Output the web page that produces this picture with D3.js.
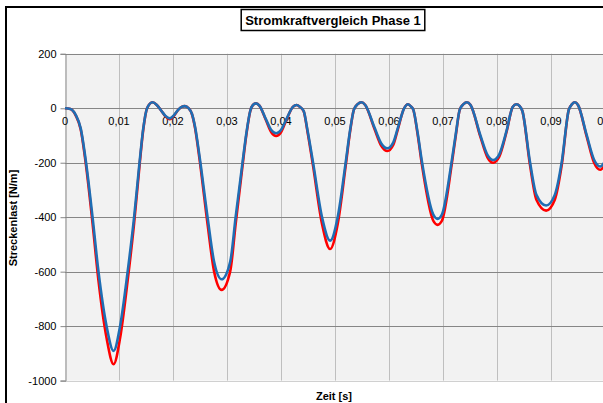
<!DOCTYPE html>
<html>
<head>
<meta charset="utf-8">
<script src="https://cdn.jsdelivr.net/npm/d3@7"></script>
<style>
	body { margin:0; background:#fff; }
	svg { display:block; font-family: Arial, "Liberation Sans", sans-serif; }
</style>
</head>
<body>
<svg id="chart" width="603" height="403"></svg>
<script>
//time values (s)
var times = [0,0.001,0.002,0.0029,0.0039,0.0051,0.0062,0.0077,0.009,0.0102,0.0116,0.0128,0.0138,0.0145,0.0152,0.0162,0.017,0.0178,0.0186,0.0194,0.0202,0.021,0.0216,0.0222,0.0229,0.0235,0.0241,0.0249,0.0264,0.0276,0.029,0.0306,0.0316,0.0329,0.0336,0.0343,0.0348,0.0354,0.036,0.0372,0.0382,0.0391,0.04,0.041,0.0422,0.0429,0.0435,0.0442,0.0449,0.0459,0.0476,0.0491,0.0505,0.052,0.0528,0.0535,0.0542,0.0549,0.0556,0.0573,0.0586,0.0597,0.0608,0.0616,0.0628,0.0635,0.064,0.0645,0.0653,0.0661,0.0682,0.069,0.0698,0.0716,0.0724,0.0731,0.0738,0.0744,0.0751,0.0769,0.0782,0.0793,0.0804,0.0818,0.0829,0.0836,0.0842,0.0847,0.0861,0.0873,0.0891,0.0907,0.092,0.0933,0.0939,0.0944,0.095,0.0966,0.098,0.0991,0.1];

//blue series (N/m)
var blueValues = [0,-3,-25,-73,-200,-400,-600,-800,-891,-800,-600,-400,-200,-73,0,22,12,-8,-28,-37,-25,-5,5,8,0,-20,-70,-175,-400,-563,-628,-563,-400,-195,-90,-10,12,18,10,-40,-80,-92,-80,-40,5,12,5,-10,-80,-195,-400,-486,-400,-196,-80,-5,15,22,12,-70,-130,-147,-125,-75,0,15,8,-5,-90,-196,-390,-406,-390,-196,-90,-5,15,22,12,-98,-170,-190,-170,-80,5,15,8,-10,-196,-318,-357,-318,-196,-5,15,22,12,-98,-190,-214,-195];

//red series (N/m)
var redValues = [0,-3,-27,-77,-211,-422,-633,-844,-940,-844,-633,-422,-211,-77,0,22,12,-8,-30,-40,-27,-5,5,8,0,-21,-74,-185,-425,-598,-667,-598,-425,-207,-95,-11,12,18,10,-43,-88,-102,-88,-43,5,12,5,-11,-85,-207,-425,-517,-425,-208,-85,-5,15,22,12,-75,-139,-157,-134,-80,0,15,8,-5,-96,-208,-413,-428,-413,-208,-96,-5,15,22,12,-103,-179,-200,-179,-84,5,15,8,-10,-207,-336,-376,-336,-207,-5,15,22,12,-103,-201,-226,-206];

var xTicks = [0,0.01,0.02,0.03,0.04,0.05,0.06,0.07,0.08,0.09,0.1];
var yTicks = [200,0,-200,-400,-600,-800,-1000];

var svg = d3.select("#chart");

//outer chart frame
svg.append("rect")
	.attr("x",6).attr("y",7).attr("width",700).attr("height",500)
	.attr("fill","#fff").attr("stroke","#000").attr("stroke-width",2);

var x = d3.scaleLinear().domain([0,0.1]).range([65,605]);
var y = d3.scaleLinear().domain([-1000,200]).range([380.6,53.8]);

//plot background
svg.append("rect")
	.attr("x",x(0)).attr("y",y(200))
	.attr("width",x(0.1)-x(0)).attr("height",y(-1000)-y(200))
	.attr("fill","#f2f2f2");

//vertical grid
svg.append("g").selectAll("line").data(xTicks.slice(1)).join("line")
	.attr("x1",function(d){return Math.round(x(d))+0.5;})
	.attr("x2",function(d){return Math.round(x(d))+0.5;})
	.attr("y1",y(200)).attr("y2",y(-1000))
	.attr("stroke","#bfbfbf").attr("stroke-width",1);

//horizontal grid
svg.append("g").selectAll("line").data(yTicks.filter(function(d){return d>-1000;})).join("line")
	.attr("x1",x(0)).attr("x2",x(0.1))
	.attr("y1",function(d){return Math.round(y(d))+0.5;})
	.attr("y2",function(d){return Math.round(y(d))+0.5;})
	.attr("stroke","#868686").attr("stroke-width",1);

//bottom edge of plot
svg.append("line")
	.attr("x1",x(0)).attr("x2",x(0.1))
	.attr("y1",Math.round(y(-1000))+0.5).attr("y2",Math.round(y(-1000))+0.5)
	.attr("stroke","#d0d0d0");

//y axis
var yAxis = d3.axisLeft(y).tickValues(yTicks).tickSize(5).tickPadding(4)
	.tickFormat(function(d){return d;});
var gy = svg.append("g").attr("transform","translate("+(Math.round(x(0))+0.5)+",0)").call(yAxis);
gy.select(".domain").attr("stroke","#868686");
gy.selectAll(".tick line").attr("stroke","#868686");
gy.selectAll(".tick text").attr("font-size",11).attr("fill","#000")
	.attr("font-family","Arial, 'Liberation Sans', sans-serif");

//x tick labels along the zero line
svg.append("g").selectAll("text").data(xTicks).join("text")
	.attr("x",function(d){return x(d);})
	.attr("y",y(0)+17)
	.attr("text-anchor","middle")
	.attr("font-size",11)
	.text(function(d){return d==0 ? "0" : String(d).replace(".",",");});

//curves
var line = d3.line()
	.x(function(d){return x(d[0]);})
	.y(function(d){return y(d[1]);})
	.curve(d3.curveMonotoneX);

svg.append("clipPath").attr("id","plotclip").append("rect")
	.attr("x",x(0)-3).attr("y",y(200)).attr("width",x(0.1)-x(0)+6).attr("height",y(-1000)-y(200));

svg.append("path")
	.datum(times.map(function(t,i){return [t,redValues[i]];}))
	.attr("d",line).attr("fill","none")
	.attr("stroke","#ff0000").attr("stroke-width",2.6)
	.attr("clip-path","url(#plotclip)");

svg.append("path")
	.datum(times.map(function(t,i){return [t,blueValues[i]];}))
	.attr("d",line).attr("fill","none")
	.attr("stroke","#1f6eb4").attr("stroke-width",2.6)
	.attr("clip-path","url(#plotclip)");

//title with box
var titleBox = svg.append("rect");
var title = svg.append("text")
	.attr("x",333).attr("y",25)
	.attr("text-anchor","middle")
	.attr("font-size",13).attr("font-weight","bold")
	.text("Stromkraftvergleich Phase 1");
var tw = title.node().getComputedTextLength();
titleBox
	.attr("x",333-tw/2-4).attr("y",9.5)
	.attr("width",tw+8).attr("height",21)
	.attr("fill","#fff").attr("stroke","#000").attr("stroke-width",1.5);

//axis titles
svg.append("text")
	.attr("transform","translate(17,218) rotate(-90)")
	.attr("text-anchor","middle")
	.attr("font-size",11).attr("font-weight","bold")
	.text("Streckenlast [N/m]");

svg.append("text")
	.attr("x",334).attr("y",400)
	.attr("text-anchor","middle")
	.attr("font-size",11).attr("font-weight","bold")
	.text("Zeit [s]");
</script>
</body>
</html>
